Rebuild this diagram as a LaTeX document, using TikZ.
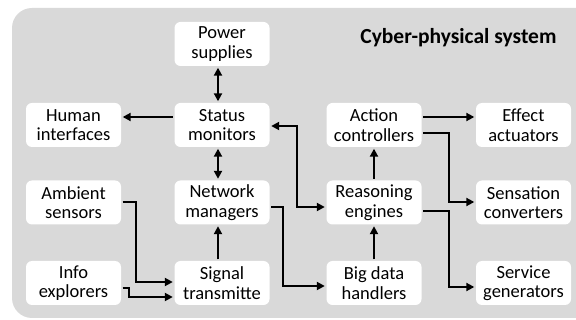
\documentclass[tikz,border=0pt]{standalone}
\usepackage{fontspec}
\setmainfont{Carlito}
\usetikzlibrary{arrows.meta,calc}
\definecolor{bggray}{HTML}{D9D9D9}
\tikzset{
  box/.style={fill=white, rounded corners=6pt, minimum width=95pt, minimum height=44pt,
    inner sep=0pt, align=center, font=\fontsize{18.5}{19.5}\selectfont},
  conn/.style={line width=2pt, -{Triangle[length=8pt,width=8pt]}, shorten >=1.5pt, shorten <=1.5pt},
  dconn/.style={line width=2pt, {Triangle[length=8pt,width=8pt]}-{Triangle[length=8pt,width=8pt]}, shorten >=1.5pt, shorten <=1.5pt}
}
\begin{document}
\begin{tikzpicture}[x=1pt,y=-1pt]
\useasboundingbox (0,0) rectangle (576,320);
\fill[bggray, rounded corners=20pt] (12,8) rectangle (600,318);
\node[anchor=base east, font=\fontsize{21.5}{23}\selectfont\bfseries] (title) at (560,43.5) {Cyber-physical system};
% column 1
\node[box] (hum) at (73.5,125) {Human\\interfaces};
\node[box] (amb) at (73.5,202.5) {Ambient\\sensors};
\node[box] (inf) at (73.5,283) {Info\\explorers};
% column 2
\node[box] (pow) at (222,44) {Power\\supplies};
\node[box] (sta) at (222,125) {Status\\monitors};
\node[box] (net) at (222,202.5) {Network\\managers};
\node[box] (sig) at (222,283) {Signal\\transmitte};
% column 3
\node[box] (act) at (374,125) {Action\\controllers};
\node[box] (rea) at (374,202.5) {Reasoning\\engines};
\node[box] (big) at (374,283) {Big data\\handlers};
% column 4
\node[box] (eff) at (523.5,125) {Effect\\actuators};
\node[box] (sen) at (523.5,202.5) {Sensation\\converters};
\node[box] (ser) at (523.5,283) {Service\\generators};
% connectors
\draw[dconn] ([xshift=-4pt]pow.south) -- ([xshift=-4pt]sta.north);
\draw[dconn] ([xshift=-4pt]sta.south) -- ([xshift=-4pt]net.north);
\draw[conn] ([xshift=-4pt]sig.north) -- ([xshift=-4pt]net.south);
\draw[conn] ([yshift=8pt]sta.west) -- ([yshift=8pt]hum.east);
\draw[dconn] ([yshift=-1pt]sta.east) -| (297,170) |- ([yshift=-4.5pt]rea.west);
\draw[conn] ([yshift=-4.5pt]net.east) -| (283,250) |- ([yshift=-3pt]big.west);
\draw[conn] ([yshift=0.5pt]amb.east) -| (136,250) |- ([yshift=1pt]sig.west);
\draw[conn] ([yshift=-5pt]inf.east) -| (129,292) |- ([yshift=-14pt]sig.west);
\draw[conn] (big.north) -- (rea.south);
\draw[conn] (rea.north) -- (act.south);
\draw[conn] ([yshift=8pt]act.east) -- ([yshift=8pt]eff.west);
\draw[conn] ([yshift=-8pt]act.east) -| (449,170) |- ([yshift=0.5pt]sen.west);
\draw[conn] ([yshift=-8.5pt]rea.east) -| (449,250) |- ([yshift=-4pt]ser.west);
\end{tikzpicture}
\end{document}
